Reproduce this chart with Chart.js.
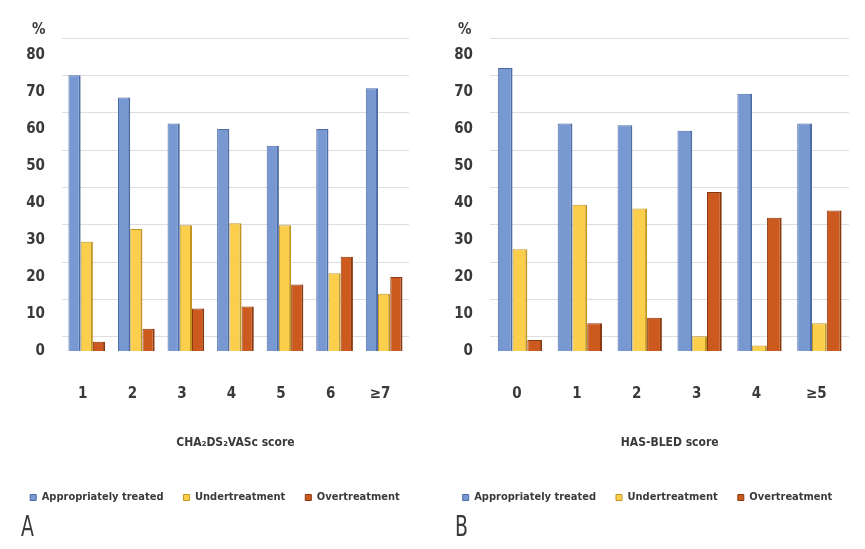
<!DOCTYPE html>
<html lang="en">
<head>
<meta charset="UTF-8" />
<title>Treatment by CHA2DS2VASc and HAS-BLED score</title>
<script src="https://cdn.jsdelivr.net/npm/chart.js"></script>
<style>
  body { margin: 0; background: #fff; }
  .wrap {
    position: relative; width: 865px; height: 549px; overflow: hidden;
    font-family: "DejaVu Sans Condensed", "Liberation Sans", sans-serif;
    color: #3a3a3a;
  }
  canvas { position: absolute; top: 0; }
  #chartA { left: 0; }
  #chartB { left: 430px; }
  .pct { position: absolute; top: 20px; font-size: 15px; font-weight: bold; }
  .tag { position: absolute; top: 510px; font-size: 28px; transform: scaleX(0.75); transform-origin: left top; }
</style>
</head>
<body>
<div class="wrap">
  <canvas id="chartA" width="430" height="549"></canvas>
  <canvas id="chartB" width="435" height="549"></canvas>
  <div class="pct" style="left:32px">%</div>
  <div class="pct" style="left:458px">%</div>
  <div class="tag" style="left:21px">A</div>
  <div class="tag" style="left:455px">B</div>
</div>

<script>
  // panel A - CHA2DS2VASc
  const scoresA = ['1', '2', '3', '4', '5', '6', '\u22657'];
  const appropriateA = [74.5, 68.5, 61.5, 60, 55.5, 60, 71];
  const underA = [29.5, 33, 34, 34.5, 34, 21, 15.5];
  const overA = [2.5, 6, 11.5, 12, 18, 25.5, 20];

  // panel B - HAS-BLED
  const scoresB = ['0', '1', '2', '3', '4', '\u22655'];
  const appropriateB = [76.5, 61.5, 61, 59.5, 69.5, 61.5];
  const underB = [27.5, 39.5, 38.5, 4, 1.5, 7.5];
  const overB = [3, 7.5, 9, 43, 36, 38];

  const yTicks = [0, 10, 20, 30, 40, 50, 60, 70, 80];
  const seriesNames = ['Appropriately treated', 'Undertreatment', 'Overtreatment'];

  const FONT = '"DejaVu Sans Condensed", "Liberation Sans", sans-serif';
  const TEXT = '#3a3a3a';
  const EDGE = { top: 1, left: 1, bottom: 0, right: 2 };

  function makeChart(id, labels, blue, yellow, orange, axisTitle, leftW, rightW, tickPad, shift) {
    const setTicks = s => { s.ticks = yTicks.map(v => ({ value: v })); };
    return new Chart(document.getElementById(id), {
      type: 'bar',
      data: {
        labels: labels,
        datasets: [
          { label: seriesNames[0], data: blue, backgroundColor: '#7898d2', borderColor: '#4d6ca6', borderWidth: EDGE },
          { label: seriesNames[1], data: yellow, backgroundColor: '#fbcf4c', borderColor: '#c29624', borderWidth: EDGE },
          { label: seriesNames[2], data: orange, backgroundColor: '#cc5a1e', borderColor: '#8a380f', borderWidth: EDGE }
        ]
      },
      options: {
        responsive: false,
        animation: false,
        layout: { padding: { top: 38, bottom: 36, left: 0, right: 0 } },
        datasets: { bar: { categoryPercentage: 0.74, barPercentage: 1.0 } },
        plugins: {
          tooltip: { enabled: false },
          legend: {
            position: 'bottom',
            labels: {
              boxWidth: 6, boxHeight: 6, padding: 20, color: TEXT,
              font: { family: FONT, size: 11, weight: 'bold' }
            }
          }
        },
        scales: {
          x: {
            grid: { display: false, drawTicks: false },
            border: { display: false },
            ticks: { padding: 34, labelOffset: -shift, color: TEXT, font: { family: FONT, size: 15, weight: 'bold' } },
            title: {
              display: true, text: axisTitle, color: TEXT,
              font: { family: FONT, size: 12, weight: 'bold' },
              padding: { top: 0, bottom: 22 }
            },
            afterFit: s => { s.height = 121; }
          },
          y: {
            min: 0, max: 84.6,
            position: 'left',
            grid: { display: false, drawTicks: false },
            border: { display: false },
            ticks: { padding: tickPad, color: TEXT, font: { family: FONT, size: 15, weight: 'bold' } },
            afterBuildTicks: setTicks,
            afterFit: s => { s.width = leftW; }
          },
          // back-wall gridlines sit a bit higher than the front labels
          y2: {
            min: -3.75, max: 80,
            position: 'right',
            grid: { color: '#dedede', lineWidth: 1, drawTicks: false },
            border: { display: false },
            ticks: { display: false },
            afterBuildTicks: setTicks,
            afterFit: s => { s.width = rightW; }
          }
        }
      }
    });
  }

  makeChart('chartA', scoresA, appropriateA, underA, overA, 'CHA\u2082DS\u2082VASc score', 62, 21, 17, 4);
  makeChart('chartB', scoresB, appropriateB, underB, overB, 'HAS-BLED score', 60, 15, 17, 3);
</script>
</body>
</html>
